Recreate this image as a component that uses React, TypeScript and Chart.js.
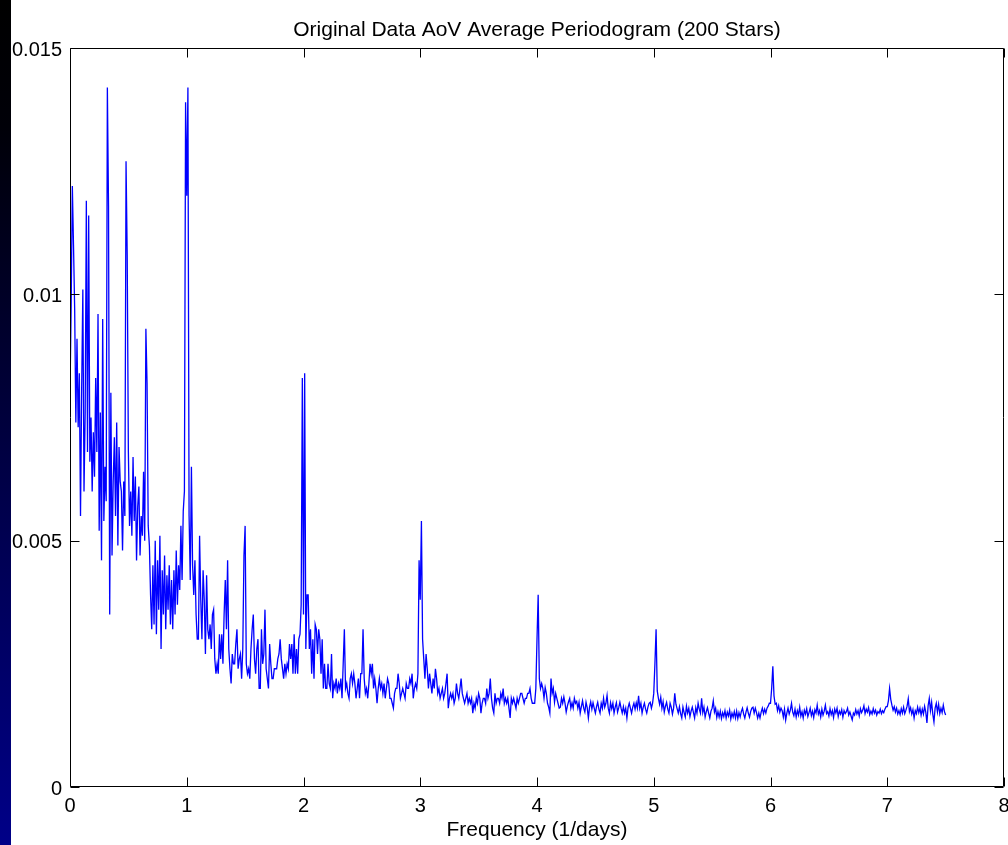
import React, { useEffect, useRef } from "react";
import { Chart, registerables } from "chart.js";

Chart.register(...registerables);

const TITLE = "Original Data AoV Average Periodogram (200 Stars)";
const X_LABEL = "Frequency (1/days)";
const FONT_FAMILY = "'Liberation Sans', Arial, Helvetica, sans-serif";

const X_TICKS = [0, 1, 2, 3, 4, 5, 6, 7, 8];
const X_TICK_LABELS = ["0", "1", "2", "3", "4", "5", "6", "7", "8"];
const Y_TICKS = [0, 0.005, 0.01, 0.015];
const Y_TICK_LABELS = ["0", "0.005", "0.01", "0.015"];

// frequency grid step (1/days); power values below are in units of 1e-4
const FREQ_STEP = 0.01;
const POWER_UNIT = 1e-4;

// 0.00 – 0.99
const POWER_F0 = [
  80, 98, 122, 110, 97, 74, 91, 73, 84, 55,
  81, 101, 60, 76, 119, 68, 116, 66, 75, 60,
  72, 63, 83, 68, 96, 52, 76, 46, 95, 54,
  65, 58, 142, 118, 35, 80, 47, 62, 71, 55,
  74, 49, 69, 62, 60, 48, 62, 55, 127, 108,
  68, 53, 60, 51, 67, 54, 63, 46, 57, 61,
  47, 55, 51, 64, 50, 93, 82, 53, 49, 39,
  32, 45, 33, 50, 31, 46, 36, 51, 28, 44,
  35, 47, 32, 43, 36, 45, 33, 42, 32, 44,
  35, 48, 37, 45, 40, 53, 42, 56, 60, 139,
];
// 1.00 – 1.99
const POWER_F1 = [
  120, 142, 55, 42, 65, 45, 39, 46, 35, 30,
  30, 51, 38, 30, 44, 38, 27, 43, 32, 30,
  33, 28, 35, 36, 26, 23, 25, 23, 31, 26,
  31, 25, 35, 42, 32, 46, 28, 24, 21, 27,
  25, 25, 29, 32, 24, 26, 27, 22, 28, 47,
  53, 25, 23, 24, 22, 28, 32, 35, 26, 23,
  28, 30, 20, 20, 32, 25, 27, 36, 24, 22,
  20, 29, 25, 22, 22, 24, 24, 24, 26, 27,
  30, 26, 24, 22, 25, 23, 25, 24, 29, 26,
  29, 23, 31, 23, 28, 23, 30, 31, 37, 83,
];
// 2.00 – 2.99
const POWER_F2 = [
  35, 84, 28, 39, 39, 28, 32, 23, 30, 22,
  33, 32, 27, 32, 30, 23, 30, 20, 25, 20,
  20, 25, 21, 20, 27, 18, 21, 20, 22, 19,
  21, 20, 22, 18, 25, 32, 20, 21, 19, 18,
  22, 23, 21, 23, 21, 18, 20, 22, 18, 23,
  23, 32, 22, 19, 20, 18, 21, 25, 23, 25,
  20, 22, 20, 17, 20, 22, 20, 21, 19, 21,
  18, 20, 22, 21, 18, 18, 17, 16, 19, 20,
  20, 23, 21, 18, 19, 20, 19, 18, 21, 20,
  20, 22, 21, 23, 18, 20, 21, 20, 23, 46,
];
// 3.00 – 3.99
const POWER_F3 = [
  38, 54, 30, 26, 22, 27, 24, 20, 23, 21,
  19, 22, 20, 24, 22, 19, 20, 18, 19, 20,
  18, 19, 21, 23, 16, 18, 19, 18, 19, 17,
  18, 21, 19, 18, 20, 22, 19, 18, 17, 18,
  19, 17, 18, 17, 18, 15, 17, 16, 18, 17,
  19, 18, 15, 17, 18, 18, 17, 20, 18, 19,
  22, 18, 16, 15, 19, 17, 18, 18, 17, 19,
  18, 20, 17, 18, 17, 18, 16, 14, 18, 17,
  18, 17, 16, 18, 17, 18, 19, 19, 18, 17,
  18, 18, 19, 19, 20, 18, 17, 17, 17, 20,
];
// 4.00 – 4.99
const POWER_F4 = [
  30, 39, 22, 20, 21, 20, 18, 20.2, 19, 17,
  16.2, 15, 22, 19, 20, 17.2, 19, 18, 17, 16,
  16.2, 18, 17, 18.3, 17, 15.2, 16.4, 17.3, 18, 16,
  17.1, 16, 18, 17, 17.4, 16, 17.2, 15, 16.3, 17.5,
  16, 15.2, 17.2, 16.1, 14, 16.2, 17.3, 15.8, 17.1, 16,
  15, 16.3, 17.2, 15.8, 15, 17, 16, 18, 16.2, 17,
  18.6, 16, 15, 17.1, 15.9, 17, 15, 16.2, 17.1, 15.2,
  16.1, 17.2, 16, 15, 16.3, 15, 16, 14, 16.1, 17,
  16, 15, 16.2, 17, 15.8, 17.1, 16, 18.5, 16, 17,
  15, 16.2, 17, 15.8, 15, 16.2, 17, 17.2, 16, 17,
];
// 5.00 – 5.99
const POWER_F5 = [
  19, 25, 32, 19.5, 18, 16.8, 18.2, 16, 17.3, 15.2,
  16.4, 17.2, 15.8, 15, 17, 16.2, 14.8, 16, 19, 16.8,
  15.9, 15, 16.3, 14.9, 14, 16.2, 15.1, 14.2, 16.4, 15,
  16, 14.3, 15.4, 16.2, 15.1, 14, 16.1, 15, 17, 15.8,
  15, 18, 15.1, 16.2, 14.2, 15.3, 16.1, 15, 14, 15.4,
  16, 17.5, 15.2, 16, 14.1, 15.3, 14.2, 15.4, 13.9, 15.1,
  14.3, 15.5, 14, 15.2, 14.4, 15.6, 13.8, 15, 14.2, 15.3,
  14, 15.4, 13.9, 15.1, 14.2, 15.3, 16, 14.8, 14, 15.2,
  16.1, 15, 14.2, 15.3, 16, 16.2, 15, 16, 15.1, 14,
  15, 14, 15.2, 16, 14.9, 15.8, 15, 16, 16.4, 17,
];
// 6.00 – 6.99
const POWER_F6 = [
  17, 20, 24.5, 18.5, 16.8, 17, 15.5, 16.5, 15.2, 16,
  15.5, 14.2, 15.8, 13.6, 15, 16, 14.8, 15.6, 17, 15.2,
  14.5, 15.8, 14.2, 15.5, 14.6, 16.2, 14.4, 15.3, 14, 15.6,
  14.8, 15.9, 14.3, 15.1, 16, 14.5, 15.4, 14.1, 15.7, 15,
  16.6, 14.8, 15.5, 14.2, 15.8, 14.6, 15.4, 16.6, 14.9, 15.3,
  14.4, 15.9, 14.7, 15.5, 14.1, 15.8, 15, 16, 14.3, 15.4,
  14.8, 15.7, 14.2, 15.5, 14.9, 15.3, 16, 14.6, 15.2, 14.4,
  13.6, 15, 14.6, 15.7, 14.8, 15.5, 14.4, 15.9, 15.1, 15.6,
  16.5, 14.9, 15.8, 15.2, 16.1, 14.7, 15.4, 14.8, 15.9, 15,
  15.6, 14.6, 15.3, 15, 15.8, 14.9, 15.5, 15.1, 15.8, 16.3,
];
// 7.00 – 7.50
const POWER_F7 = [
  16.3, 17.5, 20, 17.8, 16.6, 15.6, 16.3, 15.2, 16, 14.8,
  15.5, 14.7, 15.9, 15, 16.2, 14.9, 15.6, 16.4, 17.9, 15.3,
  16.1, 14.8, 15.7, 14, 15.5, 14.9, 16.2, 15.1, 16, 14.6,
  15.8, 14.8, 16.4, 15.2, 13, 16.5, 18, 15.5, 17.2, 14.8,
  13.2, 16, 17, 15.2, 16.8, 14.9, 16, 15.1, 16.6, 15.3,
  14.6,
];

const SEGMENTS = [
  { start: 0, values: POWER_F0 },
  { start: 1, values: POWER_F1 },
  { start: 2, values: POWER_F2 },
  { start: 3, values: POWER_F3 },
  { start: 4, values: POWER_F4 },
  { start: 5, values: POWER_F5 },
  { start: 6, values: POWER_F6 },
  { start: 7, values: POWER_F7 },
];

const TICK_LEN = 9;

const matlabFrame = {
  id: "matlabFrame",
  afterDraw(chart: any) {
    const { ctx, chartArea: a, scales } = chart;
    ctx.save();
    ctx.strokeStyle = "#000";
    ctx.lineWidth = 1;
    const L = Math.round(a.left) + 0.5;
    const R = Math.round(a.right) - 0.5;
    const T = Math.round(a.top) + 0.5;
    const B = Math.round(a.bottom) - 0.5;
    ctx.beginPath();
    ctx.rect(L, T, R - L, B - T);
    X_TICKS.forEach((v) => {
      const p = Math.round(scales.x.getPixelForValue(v)) + 0.5;
      ctx.moveTo(p, B);
      ctx.lineTo(p, B - TICK_LEN);
      ctx.moveTo(p, T);
      ctx.lineTo(p, T + TICK_LEN);
    });
    Y_TICKS.forEach((v) => {
      const p = Math.round(scales.y.getPixelForValue(v)) + 0.5;
      ctx.moveTo(L, p);
      ctx.lineTo(L + TICK_LEN, p);
      ctx.moveTo(R, p);
      ctx.lineTo(R - TICK_LEN, p);
    });
    ctx.stroke();
    // title centred over the plot box
    ctx.fillStyle = "#000";
    ctx.font = `21px ${FONT_FAMILY}`;
    ctx.textAlign = "center";
    ctx.textBaseline = "middle";
    ctx.fillText(TITLE, (a.left + a.right) / 2, 30);
    ctx.restore();
  },
};

export default function App() {
  const canvasRef = useRef<HTMLCanvasElement | null>(null);

  useEffect(() => {
    const canvas = canvasRef.current;
    if (!canvas) return;
    const points: { x: number; y: number }[] = [];
    SEGMENTS.forEach((seg) => {
      seg.values.forEach((v, i) => {
        points.push({ x: seg.start + i * FREQ_STEP, y: v * POWER_UNIT });
      });
    });
    const tickFont = { family: FONT_FAMILY, size: 20, weight: "normal" as const };
    const textFont = { family: FONT_FAMILY, size: 21, weight: "normal" as const };
    const chart = new Chart(canvas, {
      type: "line",
      data: {
        datasets: [
          {
            data: points,
            borderColor: "#0000ff",
            borderWidth: 1.3,
            pointRadius: 0,
            tension: 0,
            fill: false,
          },
        ],
      },
      plugins: [matlabFrame],
      options: {
        animation: false,
        responsive: false,
        devicePixelRatio: 1,
        layout: { padding: { left: 0, right: 4, top: 48, bottom: 0 } },
        plugins: {
          legend: { display: false },
          tooltip: { enabled: false },
          title: { display: false },
        },
        scales: {
          x: {
            type: "linear",
            min: 0,
            max: 8,
            afterBuildTicks: (s: any) => {
              s.ticks = X_TICKS.map((v) => ({ value: v }));
            },
            afterFit: (s: any) => {
              s.height = 58;
              s.paddingLeft = 0;
              s.paddingRight = 0;
            },
            ticks: {
              color: "#000",
              font: tickFont,
              padding: 7,
              maxRotation: 0,
              autoSkip: false,
              callback: (_v: any, i: number) => X_TICK_LABELS[i],
            },
            grid: { display: false, drawTicks: false },
            border: { display: false },
            title: {
              display: true,
              text: X_LABEL,
              color: "#000",
              font: textFont,
              padding: { top: 0, bottom: 2 },
            },
          },
          y: {
            type: "linear",
            min: 0,
            max: 0.015,
            afterBuildTicks: (s: any) => {
              s.ticks = Y_TICKS.map((v) => ({ value: v }));
            },
            afterFit: (s: any) => {
              s.width = 70;
              s.paddingTop = 0;
              s.paddingBottom = 0;
            },
            ticks: {
              color: "#000",
              font: tickFont,
              padding: 8,
              labelOffset: 2,
              autoSkip: false,
              callback: (_v: any, i: number) => Y_TICK_LABELS[i],
            },
            grid: { display: false, drawTicks: false },
            border: { display: false },
          },
        },
      },
    } as any);
    return () => chart.destroy();
  }, []);

  return (
    <div
      style={{
        position: "fixed",
        left: 0,
        top: 0,
        width: 1008,
        height: 845,
        background: "#fff",
        overflow: "hidden",
      }}
    >
      <canvas
        ref={canvasRef}
        width={1008}
        height={845}
        style={{ display: "block", position: "absolute", left: 0, top: 0 }}
      />
      <div
        style={{
          position: "absolute",
          left: 0,
          top: 0,
          width: 11,
          height: 845,
          background: "linear-gradient(to bottom, #000000 0%, #000008 15%, #000088 100%)",
        }}
      />
    </div>
  );
}
